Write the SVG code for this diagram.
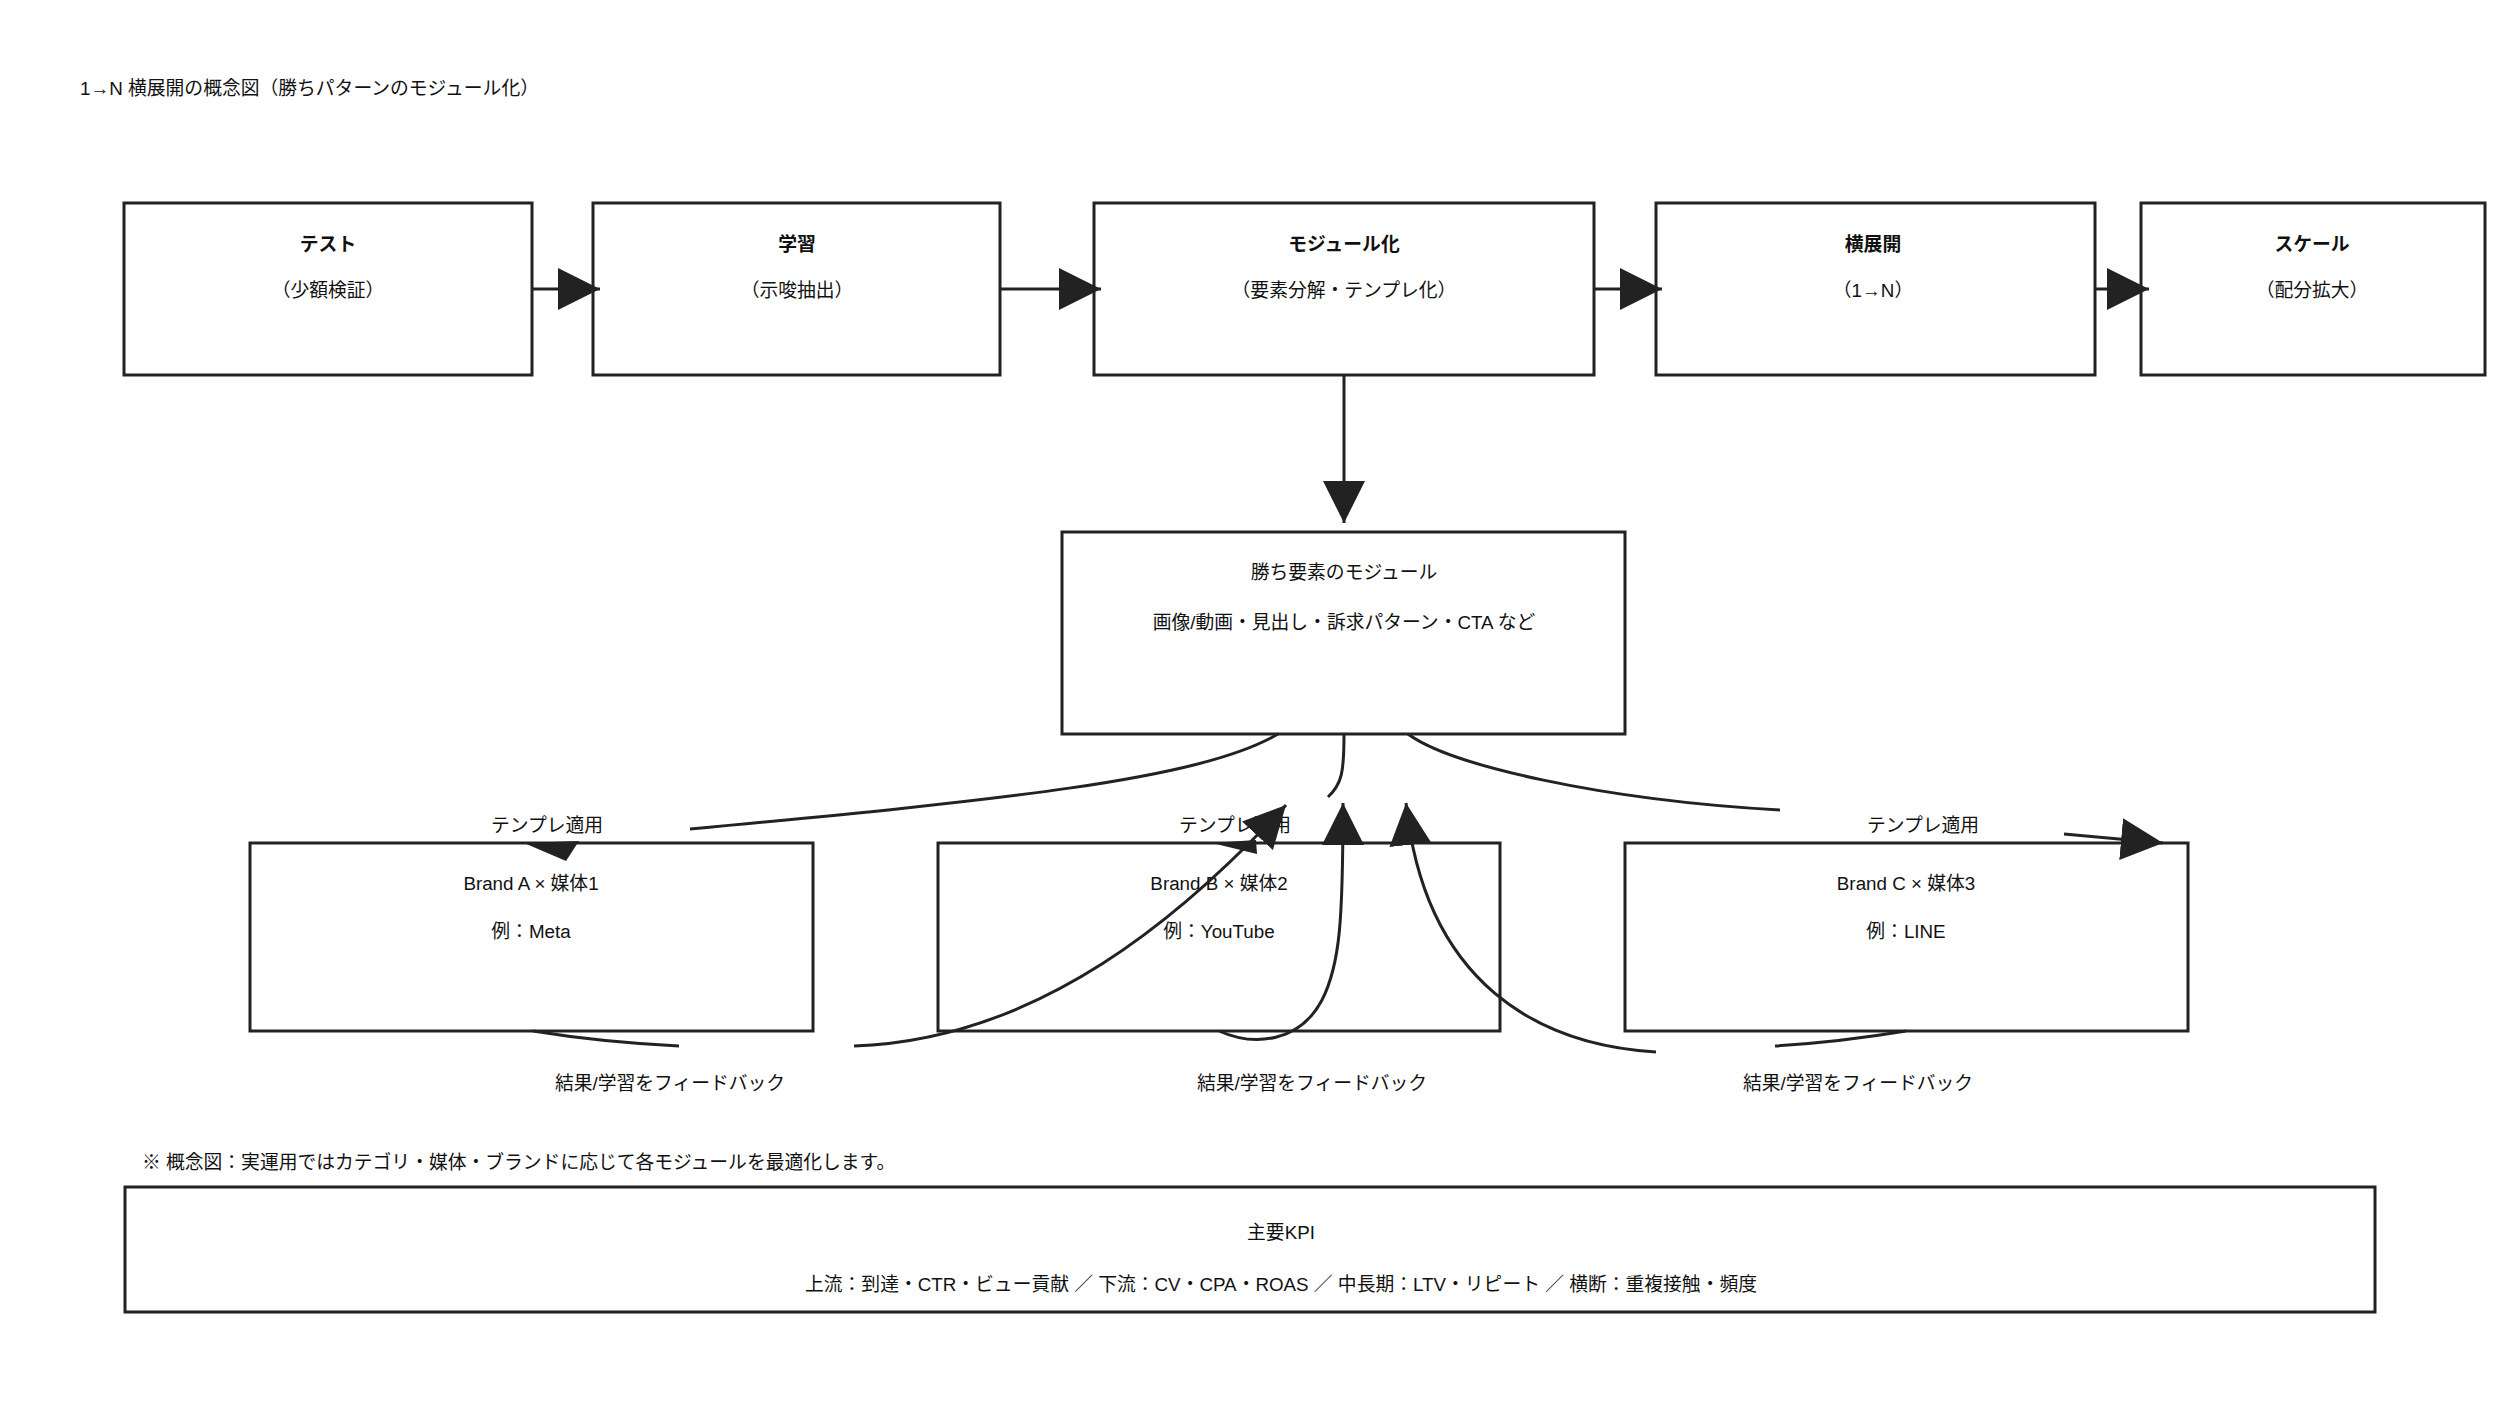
<svg xmlns="http://www.w3.org/2000/svg" width="2500" height="1406" viewBox="0 0 2500 1406">
<defs>
<style>
text{font-family:"Liberation Sans","Noto Sans CJK JP",sans-serif;font-size:18.8px;fill:#111;dominant-baseline:central}
.c{text-anchor:middle}
.b{font-weight:bold}
.box{fill:#fff;stroke:#222;stroke-width:3}
.edge{fill:none;stroke:#222;stroke-width:3}
.ah{fill:#222;stroke:none}
</style>
<marker id="arrow" viewBox="0 0 42 42" refX="42" refY="21" markerWidth="42" markerHeight="42" markerUnits="userSpaceOnUse" orient="auto"><path d="M0,0 L42,21 L0,42 z" fill="#222"/></marker>
</defs>
<rect width="2500" height="1406" fill="#fff"/>
<text id="title" x="80" y="88">1→N 横展開の概念図（勝ちパターンのモジュール化）</text>

<g id="node-test"><rect class="box" x="124" y="203" width="408" height="172"/><text class="c b" x="328" y="244">テスト</text><text class="c" x="328" y="290">（少額検証）</text></g>
<g id="node-learn"><rect class="box" x="593" y="203" width="407" height="172"/><text class="c b" x="797" y="244">学習</text><text class="c" x="797" y="290">（示唆抽出）</text></g>
<g id="node-modularize"><rect class="box" x="1094" y="203" width="500" height="172"/><text class="c b" x="1344" y="244">モジュール化</text><text class="c" x="1344" y="290">（要素分解・テンプレ化）</text></g>
<g id="node-expand"><rect class="box" x="1656" y="203" width="439" height="172"/><text class="c b" x="1873" y="244">横展開</text><text class="c" x="1873" y="290">（1→N）</text></g>
<g id="node-scale"><rect class="box" x="2141" y="203" width="344" height="172"/><text class="c b" x="2312" y="244">スケール</text><text class="c" x="2312" y="290">（配分拡大）</text></g>

<g id="node-module"><rect class="box" x="1062" y="532" width="563" height="202"/><text class="c" x="1344" y="572">勝ち要素のモジュール</text><text class="c" x="1344" y="622">画像/動画・見出し・訴求パターン・CTA など</text></g>

<g id="node-brand-a"><rect class="box" x="250" y="843" width="563" height="188"/><text class="c" x="531" y="883">Brand A × 媒体1</text><text class="c" x="531" y="931">例：Meta</text></g>
<g id="node-brand-b"><rect class="box" x="938" y="843" width="562" height="188"/><text class="c" x="1219" y="883">Brand B × 媒体2</text><text class="c" x="1219" y="931">例：YouTube</text></g>
<g id="node-brand-c"><rect class="box" x="1625" y="843" width="563" height="188"/><text class="c" x="1906" y="883">Brand C × 媒体3</text><text class="c" x="1906" y="931">例：LINE</text></g>

<text id="note" x="142" y="1162">※ 概念図：実運用ではカテゴリ・媒体・ブランドに応じて各モジュールを最適化します。</text>
<g id="node-kpi"><rect class="box" x="125" y="1187" width="2250" height="125"/><text class="c" x="1281" y="1232">主要KPI</text><text class="c" x="1281" y="1284">上流：到達・CTR・ビュー貢献 ／ 下流：CV・CPA・ROAS ／ 中長期：LTV・リピート ／ 横断：重複接触・頻度</text></g>

<g id="edge-labels">
<text class="c" x="547" y="825">テンプレ適用</text>
<text class="c" x="1235" y="825">テンプレ適用</text>
<text class="c" x="1923" y="825">テンプレ適用</text>
<text class="c" x="670" y="1083">結果/学習をフィードバック</text>
<text class="c" x="1312" y="1083">結果/学習をフィードバック</text>
<text class="c" x="1858" y="1083">結果/学習をフィードバック</text>
</g>

<g id="connectors">
<path class="edge" d="M532,289 L600,289" marker-end="url(#arrow)"/>
<path class="edge" d="M1000,289 L1101,289" marker-end="url(#arrow)"/>
<path class="edge" d="M1594,289 L1662,289" marker-end="url(#arrow)"/>
<path class="edge" d="M2095,289 L2149,289" marker-end="url(#arrow)"/>
<path class="edge" d="M1344,375 L1344,523" marker-end="url(#arrow)"/>

<path class="edge" d="M1278,734 C1200,780 1000,800 690,829"/>
<polygon class="ah" points="524,843 579,841 566,861"/>
<path class="edge" d="M1344,734 C1344,772 1342,784 1328,797"/>
<polygon class="ah" points="1212,843 1256,840 1257,854"/>
<path class="edge" d="M1408,734 C1450,765 1600,800 1780,810"/>
<path class="edge" d="M2064,834 L2163,843" marker-end="url(#arrow)"/>

<path class="edge" d="M533,1031 Q600,1042 679,1046"/>
<path class="edge" d="M854,1046 C1040,1040 1186,913 1286,805" marker-end="url(#arrow)"/>
<path class="edge" d="M1219,1031 C1255,1047 1300,1042 1322,1000 C1340,965 1343,920 1343,803" marker-end="url(#arrow)"/>
<path class="edge" d="M1906,1031 Q1840,1042 1775,1046"/>
<path class="edge" d="M1656,1052 C1540,1045 1425,985 1406,803" marker-end="url(#arrow)"/>
</g>
</svg>
